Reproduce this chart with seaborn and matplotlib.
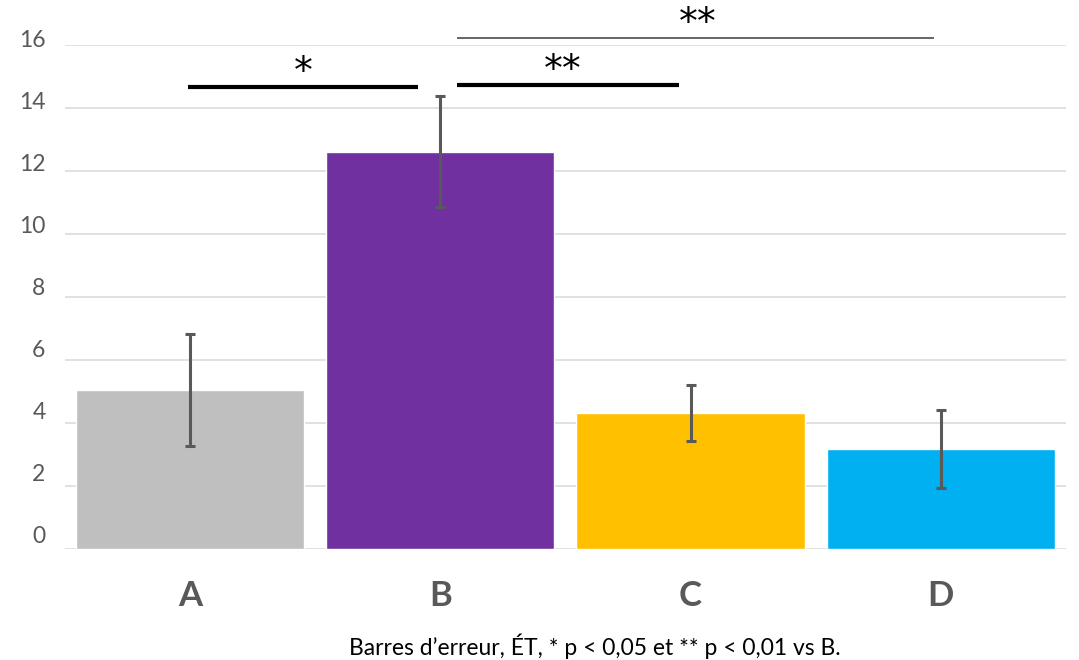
import numpy as np
import pandas as pd
import matplotlib
matplotlib.use("Agg")
import matplotlib.pyplot as plt
import matplotlib.transforms as mtransforms
import seaborn as sns

# données
groups = ["A", "B", "C", "D"]
means = [5.05, 12.62, 4.32, 3.17]
sd = [1.78, 1.76, 0.90, 1.24]
colors = ["#BFBFBF", "#7030A0", "#FFC000", "#00B0F0"]
y_ticks = [0, 2, 4, 6, 8, 10, 12, 14, 16]
caption = "Barres d\u2019erreur, \u00c9T, * p < 0,05 et ** p < 0,01 vs B."

# comparaisons vs B : (groupe gauche, groupe droit, hauteur, étiquette, épaisseur, couleur)
comparisons = [
    ("A", "B", 14.67, "*", 3.0, "black"),
    ("B", "C", 14.73, "**", 3.0, "black"),
    ("B", "D", 16.22, "**", 1.3, "#595959"),
]

sns.set_theme(style="white")
plt.rcParams["font.family"] = ["Lato", "DejaVu Sans"]

df = pd.DataFrame({"group": groups, "mean": means, "sd": sd})

fig = plt.figure(figsize=(10.79, 6.6), dpi=100)
ax = fig.add_axes([0.0602, 0.168, 0.9277, 0.7636])

sns.barplot(data=df, x="group", y="mean", hue="group", palette=colors,
            width=0.912, saturation=1, legend=False, ax=ax, zorder=2)
ax.errorbar(np.arange(len(groups)), df["mean"], yerr=df["sd"], fmt="none",
            ecolor="#595959", elinewidth=2.2, capsize=3.6, capthick=2.2, zorder=3)

ax.set_xlim(-0.5, len(groups) - 0.5)
ax.set_ylim(0, 16)
ax.set_yticks(y_ticks)
ax.yaxis.grid(True, color="#D9D9D9", linewidth=1.1, zorder=0)
ax.set_axisbelow(True)
for s in ax.spines.values():
    s.set_visible(False)
ax.tick_params(axis="both", length=0)
ax.tick_params(axis="y", labelsize=16.5, labelcolor="#595959", pad=14)
ax.tick_params(axis="x", labelsize=25, labelcolor="#595959", pad=22)
for lbl in ax.get_xticklabels():
    lbl.set_fontweight("bold")
ax.set_xlabel("")
ax.set_ylabel("")

# les étiquettes de l'axe y sont un peu au-dessus des lignes de grille
for v, lbl in zip(y_ticks, ax.get_yticklabels()):
    dy = (15 - 0.5 * v) / 100
    lbl.set_transform(lbl.get_transform() +
                      mtransforms.ScaledTranslation(0, dy, fig.dpi_scale_trans))

# barres de significativité
idx = {g: i for i, g in enumerate(groups)}
for left, right, h, star, lw, col in comparisons:
    x0 = idx[left] - 0.008 if left == "A" else idx[left] + 0.068
    x1 = idx[right] - 0.088 if right == "B" else idx[right] - 0.048 if right == "C" else idx[right] - 0.028
    ax.plot([x0, x1], [h, h], color=col, linewidth=lw, clip_on=False, solid_capstyle="butt")
    xt = (x0 + x1) / 2 if right != "D" else (x0 + x1) / 2 + 0.01
    if right == "C":
        xt = x0 + 0.42
    ax.text(xt, h + 0.45, star, ha="center", va="center", fontsize=27,
            family="DejaVu Sans", color="black", clip_on=False)

fig.text(0.551, 1 - 646 / 660, caption, ha="center", va="center",
         fontsize=16.5, color="black")

fig.savefig("out.png", dpi=100)
